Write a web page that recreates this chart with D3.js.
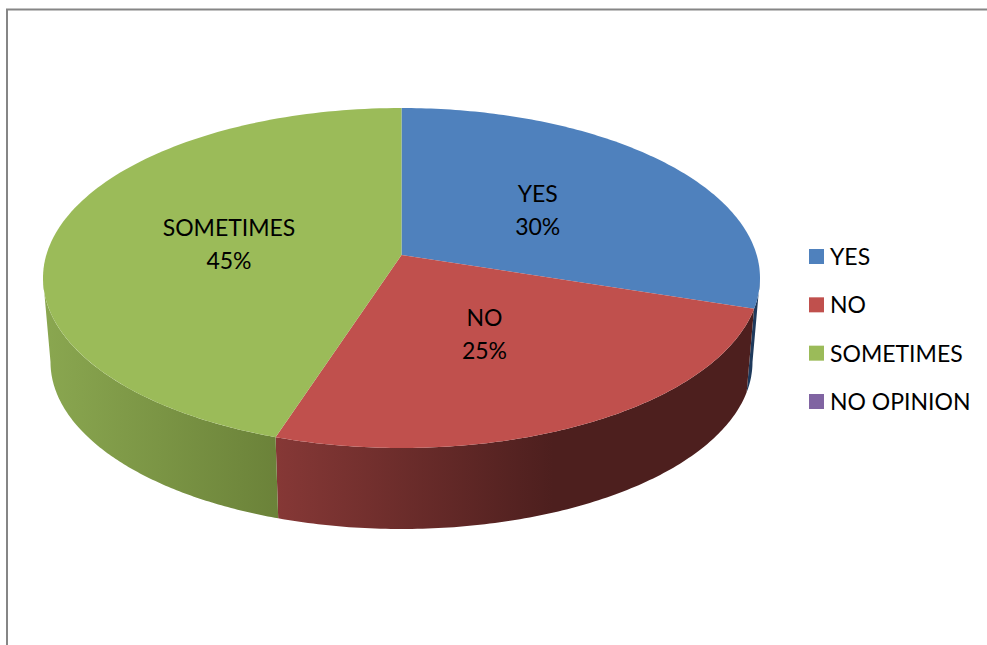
<!DOCTYPE html>
<html><head><meta charset="utf-8">
<style>html,body{margin:0;padding:0;background:#fff}svg{display:block}</style>
<script src="https://cdn.jsdelivr.net/npm/d3@7"></script></head>
<body><svg id="c" width="987" height="645"></svg>
<script>
const categories = ["YES", "NO", "SOMETIMES", "NO OPINION"];
const values = [30, 25, 45, 0];
const labels = ["30%", "25%", "45%", ""];
const colors = ["#4f81bd", "#c0504d", "#9bbb59", "#8064a2"];
const wallStops = [
  [["#1f3a5c", 0], ["#1f3a5c", 1]],
  [["#863836", 0], ["#4d1f1e", 0.58], ["#4d1f1e", 1]],
  [["#8aa750", 0], ["#6b8239", 1]]
];

const svg = d3.select("#c");
const W = 987, H = 645;
svg.append("rect").attr("width", W).attr("height", H).attr("fill", "#fff");
svg.append("path").attr("d", `M7 ${H}V9.6H${W}`).attr("fill", "none").attr("stroke", "#868686")
   .attr("stroke-width", 2);

// Perspective tilt: top rim is larger than bottom rim, centre shifted towards the back
const e = -0.135;
const rimTop = { cx: 401.5, cy: 278, rx: 358.5, ry: 170 };
const rimBot = { cx: 401.5, cy: 362, rx: 351, ry: 167 };
const scales = rim => [
  d3.scaleLinear().domain([-1, 1]).range([rim.cx - rim.rx, rim.cx + rim.rx]),
  d3.scaleLinear().domain([-1, 1]).range([rim.cy - rim.ry, rim.cy + rim.ry])
];
const proj = (rim, a, r = 1) => {
  const [sx, sy] = scales(rim);
  const u = r * Math.sin(a), v = -r * Math.cos(a), d = 1 + e * v;
  return [sx(u * Math.sqrt(1 - e * e) / d), sy((v + e) / d)];
};
const arcs = d3.pie().value(d => d).sort(null)(values);
const line = d3.line();
const samples = (a0, a1) => d3.range(0, 121).map(i => a0 + (a1 - a0) * i / 120);

const defs = svg.append("defs");
// Only the front part of the wall shows: between the rim's widest points
const frontStart = Math.acos(e), frontEnd = 2 * Math.PI - frontStart;
arcs.slice(0, 3).forEach((s, i) => {
  const a0 = Math.max(s.startAngle, frontStart), a1 = Math.min(s.endAngle, frontEnd);
  const as = samples(a0, a1);
  const top = as.map(a => proj(rimTop, a));
  const bot = as.map(a => proj(rimBot, a)).reverse();
  const xs = top.concat(bot).map(p => p[0]);
  const g = defs.append("linearGradient").attr("id", "w" + i).attr("gradientUnits", "userSpaceOnUse")
    .attr("x1", d3.min(xs)).attr("x2", d3.max(xs)).attr("y1", 0).attr("y2", 0);
  wallStops[i].forEach(st => g.append("stop").attr("offset", st[1]).attr("stop-color", st[0]));
  svg.append("path").attr("d", line(top.concat(bot)) + "Z").attr("fill", `url(#w${i})`);
});

// top faces
arcs.slice(0, 3).forEach((s, i) => {
  const pts = [proj(rimTop, 0, 0)].concat(samples(s.startAngle, s.endAngle).map(a => proj(rimTop, a)));
  svg.append("path").attr("d", line(pts) + "Z").attr("fill", colors[i]);
});

// data labels
const font = "Lato, Carlito, sans-serif";
const labelPos = [[537.7, 201.5, 234.5], [484.5, 326, 359], [229, 235.5, 268.5]];
labelPos.forEach((p, i) => {
  const t = svg.append("text").attr("text-anchor", "middle").attr("font-family", font)
    .attr("font-size", 23).attr("fill", "#000");
  t.append("tspan").attr("x", p[0]).attr("y", p[1]).text(categories[i]);
  t.append("tspan").attr("x", p[0]).attr("y", p[2]).text(labels[i]);
});

// legend
const ly = d3.scalePoint().domain(categories).range([256.5, 401.5]);
categories.forEach((c, i) => {
  svg.append("rect").attr("x", 809).attr("y", ly(c) - 7.5).attr("width", 15).attr("height", 15).attr("fill", colors[i]);
  svg.append("text").attr("x", 830).attr("y", ly(c) + 8.5).attr("font-family", font)
    .attr("font-size", 23).attr("fill", "#000").text(c);
});
</script></body></html>
